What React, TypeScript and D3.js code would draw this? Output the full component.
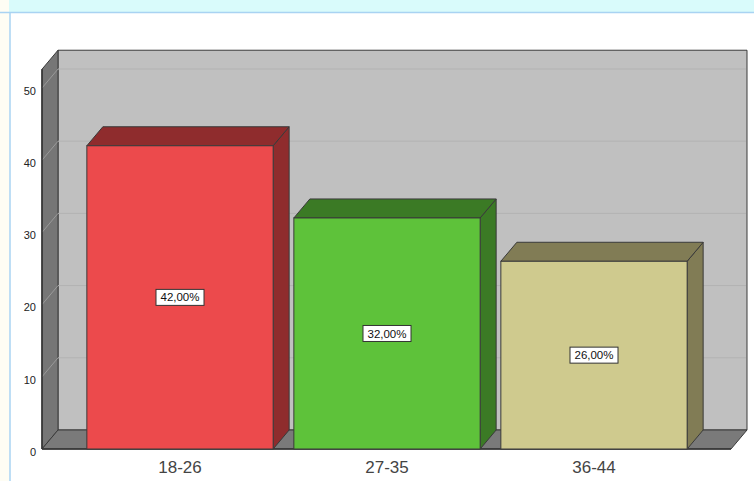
import React from "react";
import * as d3 from "d3";

const categories = ["18-26", "27-35", "36-44"];
const values = [42, 32, 26];
const valueLabels = ["42,00%", "32,00%", "26,00%"];
const yTicks = [0, 10, 20, 30, 40, 50];
const frontColors = ["#ec4a4c", "#5ec23a", "#cfca8e"];
const darkColors = ["#8f2c2d", "#3b7a25", "#817c55"];

const W = 754;
const H = 481;
const DX = 16;
const DY = -19;
const left = 42;
const right = 731;
const base = 449;

export default function App() {
  const y = d3.scaleLinear().domain([0, 52.6]).range([base, base - 52.6 * 7.22]);
  const x = d3
    .scaleBand<string>()
    .domain(categories)
    .range([76.5, 697.5])
    .paddingInner(0.1)
    .paddingOuter(0.05);
  const top = y(52.6);
  const pts = (a: [number, number][]) => a.map((p) => p.join(",")).join(" ");
  const edge = "#3a3a3a";
  return (
    <svg width={W} height={H} style={{ position: "absolute", left: 0, top: 0 }} fontFamily="Liberation Sans, Arial, sans-serif">
      <rect x={0} y={0} width={W} height={H} fill="#ffffff" />
      <rect x={0} y={0} width={W} height={12} fill="#d9fbfb" />
      <rect x={0} y={0} width={9} height={H} fill="#fefdf4" />
      <line x1={0} y1={12.5} x2={W} y2={12.5} stroke="#a9d3f2" strokeWidth={1.5} />
      <line x1={10} y1={12} x2={10} y2={H} stroke="#a9d3f2" strokeWidth={1.5} />
      {/* back wall */}
      <polygon
        points={pts([
          [left + DX, top + DY],
          [right + DX, top + DY],
          [right + DX, base + DY],
          [left + DX, base + DY],
        ])}
        fill="#c0c0c0"
        stroke={edge}
        strokeWidth={1}
      />
      {/* side wall */}
      <polygon
        points={pts([
          [left, top],
          [left + DX, top + DY],
          [left + DX, base + DY],
          [left, base],
        ])}
        fill="#767676"
        stroke={edge}
        strokeWidth={1}
      />
      {/* floor */}
      <polygon
        points={pts([
          [left, base],
          [left + DX, base + DY],
          [right + DX, base + DY],
          [right, base],
        ])}
        fill="#7a7a7a"
        stroke={edge}
        strokeWidth={1}
      />
      {/* gridlines */}
      {yTicks
        .filter((t) => t > 0)
        .map((t) => (
          <g key={t}>
            <line x1={left + DX} y1={y(t) + DY} x2={right + DX - 1} y2={y(t) + DY} stroke="#b2b2b2" strokeWidth={1} />
            <line x1={left} y1={y(t)} x2={left + DX} y2={y(t) + DY} stroke="#9a9a9a" strokeWidth={1} />
          </g>
        ))}
      <line x1={left} y1={base} x2={right} y2={base} stroke="#333" strokeWidth={1.5} />
      <line x1={left} y1={top} x2={left} y2={base} stroke="#333" strokeWidth={1.5} />
      {/* y labels */}
      {yTicks.map((t) => (
        <text key={t} x={36} y={y(t) + 3} dy="0.35em" textAnchor="end" fontSize={11} fill="#222">
          {t}
        </text>
      ))}
      {/* bars */}
      {categories.map((c, i) => {
        const x0 = x(c)!;
        const x1 = x0 + x.bandwidth();
        const yt = y(values[i]);
        return (
          <g key={c}>
            <polygon
              points={pts([
                [x1, yt],
                [x1 + DX, yt + DY],
                [x1 + DX, base + DY],
                [x1, base],
              ])}
              fill={darkColors[i]}
              stroke={edge}
              strokeWidth={1}
            />
            <polygon
              points={pts([
                [x0, yt],
                [x0 + DX, yt + DY],
                [x1 + DX, yt + DY],
                [x1, yt],
              ])}
              fill={darkColors[i]}
              stroke={edge}
              strokeWidth={1}
            />
            <rect x={x0} y={yt} width={x1 - x0} height={base - yt} fill={frontColors[i]} stroke={edge} strokeWidth={1} />
            <rect x={(x0 + x1) / 2 - 24} y={(yt + base) / 2 - 8} width={48} height={16} fill="#fff" stroke="#333" strokeWidth={1} />
            <text x={(x0 + x1) / 2} y={(yt + base) / 2} dy="0.35em" textAnchor="middle" fontSize={11.5} fill="#111">
              {valueLabels[i]}
            </text>
            <text x={(x0 + x1) / 2} y={467} dy="0.35em" textAnchor="middle" fontSize={17} fill="#444">
              {c}
            </text>
          </g>
        );
      })}
    </svg>
  );
}
